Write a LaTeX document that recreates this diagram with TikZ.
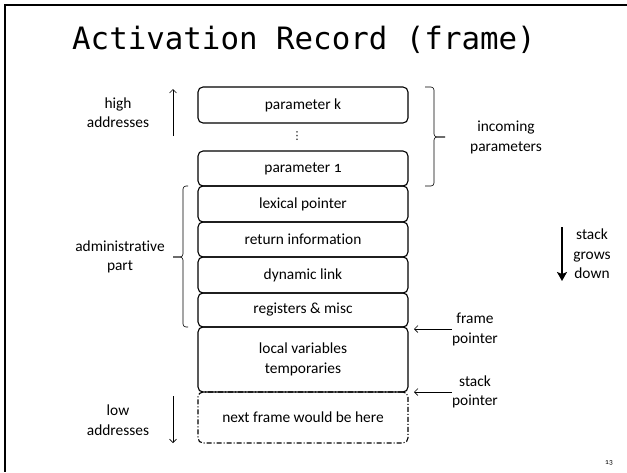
\documentclass[tikz,border=0pt]{standalone}
\usepackage{fontspec}
\setmainfont[Numbers=OldStyle, Ligatures=NoCommon]{Carlito}
\newfontfamily\titlefont{DejaVu Sans Mono}
\newfontfamily\symfont{DejaVu Sans}
\usetikzlibrary{arrows.meta}

\tikzset{
  lbl/.style={align=center, font=\fontsize{15.4}{19.5}\selectfont, inner sep=0pt},
  slot/.style={draw, line width=1.1pt, rounded corners=5pt, minimum width=210pt,
    inner sep=0pt, align=center, font=\fontsize{15.4}{19.5}\selectfont},
  thinarrow/.style={line width=0.6pt, -{Straight Barb[length=3.5pt,width=7pt]}},
  bracket/.style={line width=0.6pt, rounded corners=3pt},
  growarrow/.style={line width=2.6pt, -{Stealth[length=9pt,width=10pt,inset=2pt]}},
}

\begin{document}
\begin{tikzpicture}[x=1pt, y=-1pt]
\useasboundingbox (0,0) rectangle (627,472);

% slide frame (top and left edges)
\draw[line width=2.2pt] (627,5.3) -- (5.3,5.3) -- (5.3,472);

% title
\node[anchor=base west, inner sep=0pt, font=\titlefont\fontsize{30.8}{34}\selectfont] (title) at (72,49) {Activation Record (frame)};

% stack slots
\node[slot, minimum height=36pt] (pk)  at (303,105)   {parameter k};
\node[inner sep=0pt, font=\symfont\fontsize{11}{11}\selectfont] (dots) at (297,136.5) {⋮};
\node[slot, minimum height=35pt] (p1)  at (303,168.5) {parameter 1};
\node[slot, minimum height=36pt] (lex) at (303,204)   {lexical pointer};
\node[slot, minimum height=35pt] (ret) at (303,239.5) {return information};
\node[slot, minimum height=36pt] (dyn) at (303,275)   {dynamic link};
\node[slot, minimum height=34pt] (reg) at (303,310)   {registers \& misc};
\node[slot, minimum height=65pt] (loc) at (303,359.5) {local variables\\temporaries};
\node[slot, minimum height=51pt, dash pattern=on 5pt off 2pt on 1pt off 2pt] (nxt) at (303,417.5) {next frame would be here};

% left side labels
\node[lbl] (high) at (118,112.5) {high\\addresses};
\node[lbl] (admin) at (120,257) {administrative\\part};
\node[lbl] (low) at (118,420) {low\\addresses};

\coordinate (hiFrom) at (173,136);
\coordinate (hiTo)   at (173,89);
\draw[thinarrow] (hiFrom) -- (hiTo);
\coordinate (loFrom) at (173,396);
\coordinate (loTo)   at (173,443);
\draw[thinarrow] (loFrom) -- (loTo);

% bracket around the administrative part
\draw[bracket] (188,186) -| (183,257) -- (173,257);
\draw[bracket] (188,327) -| (183,257) -- (173,257);

% right side labels
\node[lbl] (inc) at (506,137.5) {incoming\\parameters};
\draw[bracket] (425,87) -| (434,137) -- (445,137);
\draw[bracket] (425,186) -| (434,137) -- (445,137);

\node[lbl] (grow) at (592,254) {stack\\grows\\down};
\coordinate (gFrom) at (562,227);
\coordinate (gTo)   at (562,281);
\draw[growarrow] (gFrom) -- (gTo);

\node[lbl] (fp) at (475,329.5) {frame\\pointer};
\draw[thinarrow] (fp.west |- 0,329) -- (414,329);
\node[lbl] (sp) at (475,392) {stack\\pointer};
\draw[thinarrow] (sp.west |- 0,392) -- (414,392);

% page number
\node[inner sep=0pt, font=\fontsize{7.5}{8}\selectfont] (pg) at (609,463) {13};
\end{tikzpicture}
\end{document}
